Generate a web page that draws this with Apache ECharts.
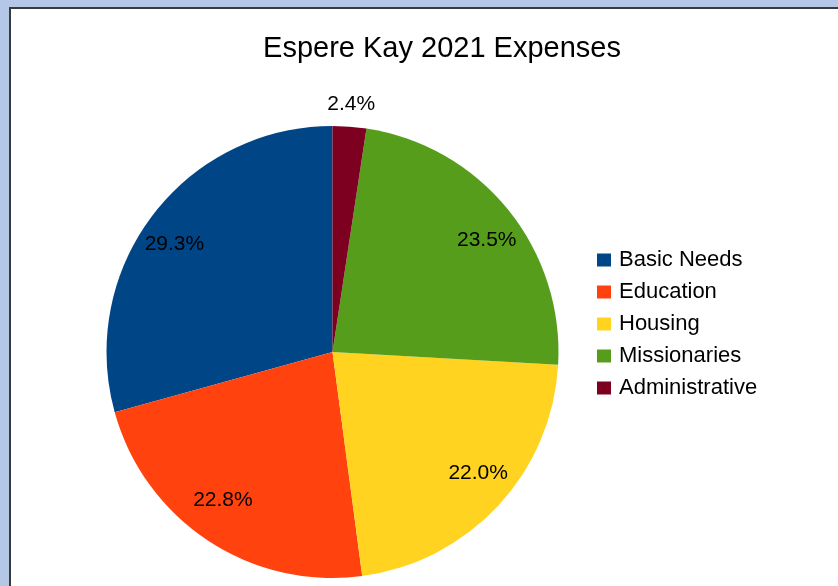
<!DOCTYPE html>
<html>
<head>
<meta charset="utf-8">
<script src="https://cdn.jsdelivr.net/npm/echarts@6/dist/echarts.min.js"></script>
<style>
html,body{margin:0;padding:0;background:#b4c7e7;}
#main{width:838px;height:586px;}
</style>
</head>
<body>
<div id="main"></div>
<script>
var titleText = 'Espere Kay 2021 Expenses';
var categories = ['Basic Needs', 'Education', 'Housing', 'Missionaries', 'Administrative'];
var values = [29.3, 22.8, 22.0, 23.5, 2.4];
var colors = ['#004586', '#ff420e', '#ffd320', '#579d1c', '#7e0021'];

var chart = echarts.init(document.getElementById('main'));
var data = categories.map(function (c, i) {
  return { name: c, value: values[i], itemStyle: { color: colors[i] } };
});
function fmt(p) { return p.value.toFixed(1) + '%'; }
var center = [332.5, 352];
var labelFont = { fontFamily: 'Liberation Sans', fontSize: 21, color: '#000' };

chart.setOption({
  backgroundColor: '#b4c7e7',
  animation: false,
  graphic: [
    { type: 'rect', shape: { x: 9, y: 7, width: 840, height: 590 }, style: { fill: '#3a3a3a' }, z: -10 },
    { type: 'rect', shape: { x: 11, y: 9, width: 840, height: 590 }, style: { fill: '#ffffff' }, z: -9 }
  ],
  title: {
    text: titleText,
    left: 437,
    textAlign: 'center',
    top: 29,
    textStyle: { fontFamily: 'Liberation Sans', fontSize: 29, fontWeight: 'normal', color: '#000' }
  },
  legend: {
    orient: 'vertical',
    left: 592,
    top: 244,
    itemWidth: 14,
    itemHeight: 13,
    itemGap: 10,
    icon: 'rect',
    data: categories,
    selectedMode: false,
    textStyle: { fontFamily: 'Liberation Sans', fontSize: 22, lineHeight: 22, color: '#000', padding: [0, 0, 0, 3] }
  },
  series: [
    {
      type: 'pie',
      center: center,
      radius: [0, 226],
      startAngle: 90,
      clockwise: false,
      data: data,
      label: { show: false },
      labelLine: { show: false },
      silent: true
    },
    {
      type: 'pie',
      center: center,
      radius: [150, 226],
      startAngle: 90,
      clockwise: false,
      silent: true,
      legendHoverLink: false,
      data: data.map(function (d, i) {
        return { name: d.name, value: d.value, itemStyle: { color: 'rgba(0,0,0,0)' },
          label: { show: i !== 4 } };
      }),
      label: Object.assign({ show: true, position: 'inside', formatter: fmt }, labelFont),
      labelLine: { show: false },
      labelLayout: function (p) {
        var r = p.labelRect;
        var lx = r.x + r.width / 2 - center[0];
        var ly = r.y + r.height / 2 - center[1];
        return { dx: lx * 0.04, dy: -ly * 0.07 };
      }
    },
    {
      type: 'pie',
      center: center,
      radius: [226, 266],
      startAngle: 90,
      clockwise: false,
      silent: true,
      legendHoverLink: false,
      data: data.map(function (d, i) {
        return { name: d.name, value: d.value, itemStyle: { color: 'rgba(0,0,0,0)' },
          label: { show: i === 4 } };
      }),
      label: Object.assign({ show: true, position: 'inside', formatter: fmt }, labelFont),
      labelLine: { show: false }
    }
  ]
});
</script>
</body>
</html>
